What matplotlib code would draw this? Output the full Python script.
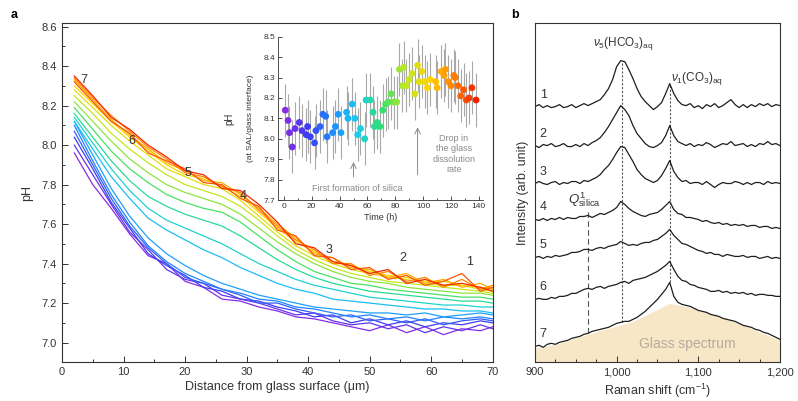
import numpy as np
import matplotlib
matplotlib.use("Agg")
import matplotlib.pyplot as plt
from matplotlib.colors import LinearSegmentedColormap
from matplotlib.ticker import MultipleLocator, FormatStrFormatter, FuncFormatter

plt.rcParams['font.family'] = ['Liberation Sans', 'DejaVu Sans']
plt.rcParams['mathtext.fontset'] = 'custom'
plt.rcParams['mathtext.rm'] = 'Liberation Sans'
plt.rcParams['mathtext.it'] = 'Liberation Sans:italic'
plt.rcParams['mathtext.bf'] = 'Liberation Sans:bold'

# ---------------- panel a: pH profiles vs distance ----------------
distance = [2, 5, 8, 11, 14, 17, 20, 23, 26, 29, 32, 35,
            38, 41, 44, 47, 50, 53, 56, 59, 62, 65, 68, 70]

profile_times = [1, 9, 17, 25, 33, 41, 49, 57, 65, 73, 81, 89,
                 97, 105, 113, 121, 129, 137]

profiles = [
    [7.96, 7.80, 7.68, 7.55, 7.44, 7.40, 7.31, 7.28, 7.22, 7.21, 7.18, 7.16,
     7.13, 7.12, 7.10, 7.08, 7.06, 7.09, 7.05, 7.08, 7.04, 7.07, 7.06, 7.08],
    [8.00, 7.85, 7.70, 7.56, 7.47, 7.37, 7.32, 7.30, 7.24, 7.22, 7.20, 7.17,
     7.14, 7.15, 7.11, 7.09, 7.10, 7.07, 7.09, 7.05, 7.08, 7.06, 7.09, 7.07],
    [8.04, 7.88, 7.71, 7.58, 7.45, 7.39, 7.34, 7.28, 7.26, 7.22, 7.21, 7.18,
     7.16, 7.13, 7.14, 7.10, 7.12, 7.09, 7.11, 7.08, 7.10, 7.09, 7.11, 7.10],
    [8.07, 7.90, 7.73, 7.59, 7.48, 7.40, 7.33, 7.30, 7.27, 7.24, 7.20, 7.20,
     7.17, 7.15, 7.13, 7.14, 7.11, 7.12, 7.10, 7.12, 7.09, 7.11, 7.12, 7.11],
    [8.10, 7.92, 7.75, 7.61, 7.49, 7.41, 7.35, 7.31, 7.27, 7.25, 7.22, 7.21,
     7.18, 7.17, 7.15, 7.13, 7.14, 7.12, 7.13, 7.11, 7.13, 7.12, 7.13, 7.12],
    [8.12, 7.95, 7.78, 7.64, 7.53, 7.45, 7.39, 7.34, 7.30, 7.27, 7.24, 7.22,
     7.20, 7.18, 7.17, 7.16, 7.15, 7.15, 7.14, 7.15, 7.13, 7.14, 7.15, 7.14],
    [8.12, 7.98, 7.84, 7.73, 7.63, 7.57, 7.52, 7.47, 7.43, 7.38, 7.34, 7.30,
     7.27, 7.25, 7.22, 7.21, 7.20, 7.19, 7.18, 7.17, 7.17, 7.16, 7.16, 7.15],
    [8.14, 8.01, 7.88, 7.77, 7.68, 7.62, 7.58, 7.54, 7.50, 7.45, 7.40, 7.36,
     7.32, 7.29, 7.27, 7.25, 7.23, 7.22, 7.21, 7.20, 7.19, 7.19, 7.18, 7.18],
    [8.16, 8.04, 7.92, 7.82, 7.74, 7.69, 7.65, 7.62, 7.59, 7.54, 7.48, 7.42,
     7.37, 7.33, 7.30, 7.28, 7.26, 7.25, 7.24, 7.23, 7.22, 7.21, 7.21, 7.20],
    [8.19, 8.08, 7.97, 7.88, 7.81, 7.75, 7.71, 7.68, 7.66, 7.61, 7.54, 7.47,
     7.41, 7.36, 7.33, 7.30, 7.29, 7.27, 7.26, 7.25, 7.24, 7.23, 7.23, 7.22],
    [8.22, 8.12, 8.02, 7.93, 7.86, 7.80, 7.76, 7.73, 7.70, 7.65, 7.58, 7.51,
     7.45, 7.40, 7.36, 7.33, 7.31, 7.30, 7.28, 7.27, 7.26, 7.25, 7.25, 7.24],
    [8.25, 8.16, 8.06, 7.98, 7.91, 7.85, 7.80, 7.77, 7.74, 7.69, 7.62, 7.54,
     7.47, 7.42, 7.38, 7.35, 7.33, 7.31, 7.30, 7.29, 7.28, 7.27, 7.26, 7.25],
    [8.28, 8.19, 8.10, 8.02, 7.95, 7.88, 7.84, 7.80, 7.78, 7.72, 7.64, 7.56,
     7.49, 7.44, 7.40, 7.37, 7.35, 7.33, 7.32, 7.30, 7.29, 7.29, 7.27, 7.26],
    [8.30, 8.21, 8.12, 8.04, 7.97, 7.90, 7.85, 7.83, 7.79, 7.74, 7.66, 7.58,
     7.51, 7.46, 7.41, 7.39, 7.36, 7.34, 7.33, 7.31, 7.31, 7.29, 7.28, 7.27],
    [8.33, 8.23, 8.13, 8.05, 7.98, 7.91, 7.87, 7.82, 7.81, 7.75, 7.68, 7.60,
     7.53, 7.45, 7.43, 7.38, 7.37, 7.33, 7.35, 7.30, 7.32, 7.28, 7.30, 7.27],
    [8.34, 8.24, 8.15, 8.07, 7.99, 7.93, 7.86, 7.84, 7.79, 7.76, 7.67, 7.59,
     7.52, 7.47, 7.40, 7.40, 7.34, 7.36, 7.31, 7.33, 7.28, 7.32, 7.27, 7.29],
    [8.32, 8.22, 8.12, 8.06, 7.96, 7.92, 7.88, 7.81, 7.80, 7.73, 7.69, 7.57,
     7.54, 7.44, 7.43, 7.37, 7.38, 7.32, 7.34, 7.29, 7.31, 7.35, 7.26, 7.28],
    [8.35, 8.25, 8.14, 8.08, 8.00, 7.94, 7.87, 7.85, 7.78, 7.77, 7.70, 7.61,
     7.50, 7.48, 7.41, 7.39, 7.35, 7.37, 7.30, 7.32, 7.29, 7.30, 7.28, 7.26],
]

site_labels = ['7', '6', '5', '4', '3', '2', '1']

# ---------------- inset: pH at SAL/glass interface vs time ----------------
inset_time = [1, 3, 4, 6, 8, 11, 13, 16, 17, 19, 22, 23, 26, 28, 30, 31, 35,
              37, 39, 41, 45, 46, 49, 51, 53, 55, 58, 59, 62, 64, 65, 67, 69,
              71, 73, 75, 77, 79, 81, 83, 85, 86, 88, 90, 92, 94, 96, 97, 99,
              101, 103, 105, 109, 110, 113, 115, 116, 118, 120, 122, 123, 125,
              127, 129, 131, 133, 135, 138]
inset_ph = [8.14, 8.09, 8.03, 7.96, 8.05, 8.08, 8.04, 8.02, 8.06, 8.01, 7.98,
            8.04, 8.06, 8.12, 8.11, 8.01, 8.03, 8.06, 8.12, 8.03, 8.13, 8.10,
            8.17, 8.10, 8.02, 8.05, 8.00, 8.19, 8.19, 8.13, 8.06, 8.08, 8.06,
            8.14, 8.17, 8.18, 8.22, 8.18, 8.18, 8.34, 8.26, 8.35, 8.26, 8.29,
            8.32, 8.22, 8.36, 8.28, 8.33, 8.28, 8.25, 8.29, 8.28, 8.25, 8.33,
            8.31, 8.34, 8.28, 8.26, 8.31, 8.30, 8.26, 8.21, 8.24, 8.19, 8.20,
            8.25, 8.19]
inset_err = 0.13

# ---------------- panel b: Raman spectra ----------------
raman_shift = np.arange(900, 1201, 5)
spectra = [
    [0, 2, -1, 1, -1, 0, 2, -1, 0, 2,
     -1, 1, 3, 1, 3, 5, 7, 12, 18, 27,
     40, 46, 45, 37, 28, 18, 10, 5, 1, -3,
     0, 4, 13, 23, 13, 6, 2, 1, 3, -1,
     1, -2, 2, 0, 3, -1, 1, 4, 7, 2,
     -1, 2, -1, 2, 0, 3, 1, 3, 0, 2,
     1],
    [0, -2, 1, 0, 2, -1, 0, 2, -1, -1,
     1, -1, 2, 0, 3, 5, 8, 13, 19, 26,
     33, 40, 36, 30, 20, 12, 7, 2, -1, -2,
     0, 3, 10, 20, 10, 4, 2, 0, 2, -1,
     1, 0, 3, 1, -2, 0, 2, 1, 4, 0,
     1, 2, -1, 1, -1, 2, 1, 4, 1, 2,
     0],
    [0, 2, 0, -1, 1, 2, -1, 1, 0, 2,
     2, 0, 3, 2, 4, 6, 9, 14, 18, 24,
     31, 37, 36, 29, 22, 14, 9, 5, 3, 1,
     3, 8, 15, 23, 12, 6, 2, 3, 0, 1,
     1, -1, 2, -1, -4, -1, 1, 0, 0, 2,
     1, -1, 1, -1, 1, 1, -1, 2, 0, 1,
     0],
    [0, -1, 1, -1, 1, 0, 2, 0, 2, 1,
     1, 3, 3, 4, 2, 4, 6, 5, 7, 9,
     12, 18, 15, 11, 8, 6, 4, 3, 5, 6,
     7, 10, 14, 18, 10, 6, 5, 2, 2, 1,
     0, -2, -1, -3, -4, -3, -5, -4, -6, -5,
     -6, -5, -7, -6, -6, -8, -7, -7, -9, -8,
     -9],
    [0, 1, -1, 1, 0, 2, 1, 2, 3, 5,
     5, 6, 8, 8, 7, 9, 10, 9, 11, 12,
     13, 16, 14, 12, 13, 12, 14, 15, 15, 17,
     18, 21, 24, 28, 22, 18, 14, 13, 11, 9,
     7, 6, 4, 5, 3, 3, 1, 3, 2, 1,
     1, 2, 0, 1, 1, -1, 0, 1, -1, 0,
     -1],
    [0, 1, 0, 0, 2, 1, 3, 3, 4, 6,
     6, 8, 10, 11, 10, 12, 13, 11, 13, 14,
     15, 17, 18, 16, 19, 20, 21, 22, 24, 26,
     28, 31, 34, 38, 30, 23, 19, 18, 15, 14,
     12, 11, 10, 8, 8, 9, 7, 8, 6, 7,
     6, 7, 5, 6, 4, 5, 5, 4, 4, 3,
     3],
    [0, 1, -1, 2, 3, 2, 4, 5, 6, 8,
     9, 10, 12, 13, 15, 16, 17, 18, 19, 21,
     23, 24, 25, 25, 27, 29, 32, 35, 39, 43,
     47, 52, 57, 64, 50, 44, 42, 41, 40, 38,
     36, 35, 34, 32, 31, 30, 28, 27, 26, 25,
     23, 21, 20, 19, 17, 16, 14, 13, 11, 9,
     7],
]
spectrum_labels = ['1', '2', '3', '4', '5', '6', '7']
spectrum_offsets = [256, 217, 179, 143, 105, 63, 16]

glass_shift = [900, 930, 960, 990, 1020, 1045, 1065, 1085, 1110, 1140, 1170, 1200]
glass_level = [-2, 3, 11, 18, 25, 35, 43, 40, 34, 26, 16, 6]

hco3_pos = 1007
co3_pos = 1065
q1_pos = 965

# ---------------- figure ----------------
cmap = LinearSegmentedColormap.from_list(
    'prof', ['#8a2be2', '#3c3cf5', '#1e8cff', '#18cdf0', '#2fe070',
             '#c0e820', '#ffd400', '#ff7e00', '#f01800'])
tmax = 140.0
dark = '#333333'

fig = plt.figure(figsize=(7.98, 4.01), dpi=100)

# panel a
ax = fig.add_axes([0.0777, 0.0965, 0.5397, 0.8469])
for t, prof in zip(profile_times, profiles):
    ax.plot(distance, prof, color=cmap(t / tmax), lw=0.9)

site_x = [3.5, 11.3, 20.5, 29.5, 43.4, 55.4, 66.3]
site_y = [8.33, 8.02, 7.86, 7.74, 7.47, 7.43, 7.41]
for lab, sx, sy in zip(site_labels, site_x, site_y):
    ax.text(sx, sy, lab, fontsize=9, color=dark, ha='center', va='center')

ax.set_xlim(0, 70)
ax.set_ylim(6.9, 8.62)
ax.xaxis.set_major_locator(MultipleLocator(10))
ax.xaxis.set_minor_locator(MultipleLocator(5))
ax.yaxis.set_major_locator(MultipleLocator(0.2))
ax.yaxis.set_minor_locator(MultipleLocator(0.1))
ax.yaxis.set_major_formatter(FormatStrFormatter('%.1f'))
ax.tick_params(which='both', direction='in', width=0.7, labelsize=8,
               labelcolor=dark, color=dark)
ax.tick_params(which='major', length=4)
ax.tick_params(which='minor', length=2)
for s in ax.spines.values():
    s.set_linewidth(0.8)
    s.set_color(dark)
ax.set_xlabel('Distance from glass surface (\u03bcm)', fontsize=9, color=dark, labelpad=3)
ax.set_ylabel('pH', fontsize=9, color=dark, labelpad=6)

# inset
axi = fig.add_axes([0.3488, 0.5012, 0.2565, 0.4072])
axi.set_facecolor('none')
axi.errorbar(inset_time, inset_ph, yerr=inset_err, fmt='none',
             ecolor='#a8a8a8', elinewidth=0.8, zorder=1)
axi.scatter(inset_time, inset_ph, c=[cmap(t / tmax) for t in inset_time],
            s=24, edgecolors='none', zorder=2)
axi.set_xlim(-4, 143)
axi.set_ylim(7.7, 8.5)
axi.xaxis.set_major_locator(MultipleLocator(20))
axi.xaxis.set_minor_locator(MultipleLocator(10))
axi.yaxis.set_major_locator(MultipleLocator(0.1))
axi.yaxis.set_major_formatter(FormatStrFormatter('%.1f'))
axi.tick_params(which='both', direction='in', width=0.6, labelsize=6,
                labelcolor=dark, color=dark, pad=2)
axi.tick_params(which='major', length=3)
axi.tick_params(which='minor', length=1.5)
axi.spines['top'].set_visible(False)
axi.spines['right'].set_visible(False)
for s in ['left', 'bottom']:
    axi.spines[s].set_linewidth(0.6)
    axi.spines[s].set_color(dark)
axi.set_xlabel('Time (h)', fontsize=6.5, color=dark, labelpad=2)
axi.text(-0.24, 0.5, 'pH', transform=axi.transAxes, rotation=90,
         ha='center', va='center', fontsize=7, color=dark)
axi.text(-0.135, 0.5, '(at SAL/glass interface)', transform=axi.transAxes,
         rotation=90, ha='center', va='center', fontsize=6, color=dark)
grey = '#8a8a8a'
axi.annotate('', xy=(50, 7.90), xytext=(50, 7.80),
             arrowprops=dict(arrowstyle='->', color=grey, lw=0.7))
axi.text(53, 7.755, 'First formation of silica', fontsize=6.5, color=grey,
         ha='center', va='center')
axi.annotate('', xy=(96, 8.07), xytext=(96, 7.81),
             arrowprops=dict(arrowstyle='->', color=grey, lw=0.7))
axi.text(122, 7.925, 'Drop in\nthe glass\ndissolution\nrate', fontsize=6.5,
         color=grey, ha='center', va='center', linespacing=1.2)

# panel b
axb = fig.add_axes([0.6704, 0.0965, 0.307, 0.8469])
axb.fill_between(glass_shift, 0, np.array(glass_level) + spectrum_offsets[-1],
                 color='#f8e7c6', lw=0, zorder=0)

top1 = spectrum_offsets[0] + np.interp(hco3_pos, raman_shift, spectra[0])
bot7 = spectrum_offsets[-1] + np.interp(hco3_pos, raman_shift, spectra[-1])
axb.plot([hco3_pos, hco3_pos], [bot7, top1], color='#555555', lw=0.8,
         ls=(0, (2, 1.5)), zorder=1)
top1 = spectrum_offsets[0] + np.interp(co3_pos, raman_shift, spectra[0])
bot7 = spectrum_offsets[-1] + np.interp(co3_pos, raman_shift, spectra[-1])
axb.plot([co3_pos, co3_pos], [bot7, top1], color='#555555', lw=0.8,
         ls=(0, (2, 1.5)), zorder=1)
bot7 = spectrum_offsets[-1] + np.interp(q1_pos, raman_shift, spectra[-1])
axb.plot([q1_pos, q1_pos], [bot7, spectrum_offsets[3] + 9], color='#555555',
         lw=0.8, ls=(0, (5, 3)), zorder=1)

for lab, spec, off in zip(spectrum_labels, spectra, spectrum_offsets):
    axb.plot(raman_shift, np.array(spec) + off, color='#1e1e1e', lw=0.9, zorder=2)
    axb.text(910, off + 12, lab, fontsize=9, color=dark, ha='center', va='center')

axb.text(1008, 319, r'$\nu_5$(HCO$_3$)$_{\rm aq}$', fontsize=8.5, color=dark,
         ha='center', va='center')
axb.text(1099, 284, r'$\nu_1$(CO$_3$)$_{\rm aq}$', fontsize=8.5, color=dark,
         ha='center', va='center')
axb.text(940, 159, r'$Q^1_{\rm silica}$', fontsize=9.5, color=dark,
         ha='left', va='baseline')
axb.text(1086, 18, 'Glass spectrum', fontsize=10, color='#b5aa9c',
         ha='center', va='center')

axb.set_xlim(900, 1200)
axb.set_ylim(0, 340)
axb.set_yticks([])
axb.xaxis.set_major_locator(MultipleLocator(100))
axb.xaxis.set_minor_locator(MultipleLocator(25))
axb.xaxis.set_major_formatter(FuncFormatter(lambda v, p: f'{int(v):,}'))
axb.tick_params(which='both', direction='in', width=0.7, labelsize=8,
                labelcolor=dark, color=dark)
axb.tick_params(which='major', length=4)
axb.tick_params(which='minor', length=2)
for s in axb.spines.values():
    s.set_linewidth(0.8)
    s.set_color(dark)
axb.set_xlabel('Raman shift (cm$^{-1}$)', fontsize=9, color=dark, labelpad=3)
axb.set_ylabel('Intensity (arb. unit)', fontsize=9, color=dark, labelpad=4)

fig.text(0.018, 0.962, 'a', fontsize=9, fontweight='bold', ha='center', va='center')
fig.text(0.645, 0.962, 'b', fontsize=9, fontweight='bold', ha='center', va='center')

fig.savefig('out.png', dpi=100)
